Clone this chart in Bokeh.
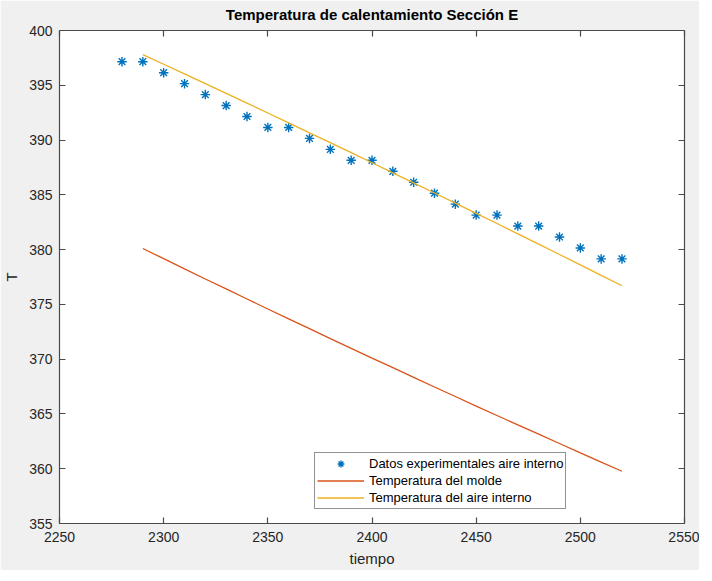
from bokeh.plotting import figure
from bokeh.models import (Range1d, LinearAxis, FixedTicker, Legend, LegendItem,
                          CustomLabelingPolicy)
from bokeh.embed import file_html
from bokeh.resources import INLINE

# ---- data ----
tiempo_exp = [2280, 2290, 2300, 2310, 2320, 2330, 2340, 2350, 2360, 2370,
              2380, 2390, 2400, 2410, 2420, 2430, 2440, 2450, 2460, 2470,
              2480, 2490, 2500, 2510, 2520]
T_exp = [397.15, 397.15, 396.15, 395.15, 394.15, 393.15, 392.15, 391.15, 391.15, 390.15,
         389.15, 388.15, 388.15, 387.15, 386.15, 385.15, 384.15, 383.15, 383.15, 382.15,
         382.15, 381.15, 380.15, 379.15, 379.15]

tiempo_sim = [2290, 2300, 2310, 2320, 2330, 2340, 2350, 2360, 2370, 2380,
              2390, 2400, 2410, 2420, 2430, 2440, 2450, 2460, 2470, 2480,
              2490, 2500, 2510, 2520]
T_molde = [380.10, 379.17, 378.24, 377.32, 376.41, 375.49, 374.58, 373.68, 372.78, 371.88,
           370.99, 370.10, 369.22, 368.34, 367.46, 366.59, 365.72, 364.86, 364.00, 363.15,
           362.30, 361.45, 360.61, 359.77]
T_aire = [397.80, 396.92, 396.04, 395.15, 394.26, 393.37, 392.47, 391.57, 390.66, 389.76,
          388.85, 387.93, 387.01, 386.09, 385.17, 384.24, 383.31, 382.38, 381.44, 380.50,
          379.55, 378.60, 377.65, 376.70]

x_ticks = [2250, 2300, 2350, 2400, 2450, 2500, 2550]
y_ticks = [355, 360, 365, 370, 375, 380, 385, 390, 395, 400]

title_text = "Temperatura de calentamiento Sección E"
x_label = "tiempo"
y_label = "T"
legend_labels = ["Datos experimentales aire interno",
                 "Temperatura del molde",
                 "Temperatura del aire interno"]

# ---- styles ----
FONT = "Liberation Sans"
AX = "#262626"
AXLINE = "#4a4a4a"
BLUE = "#0072BD"
ORANGE = "#D95319"
YELLOW = "#EDB120"

p = figure(frame_width=625, frame_height=493, output_backend="svg", toolbar_location=None,
           x_range=Range1d(x_ticks[0], x_ticks[-1]),
           y_range=Range1d(y_ticks[0], y_ticks[-1]),
           min_border_left=56, min_border_right=15,
           min_border_top=25, min_border_bottom=47,
           background_fill_color="white", border_fill_color="#f0f0f0",
           outline_line_color=None)
p.grid.visible = False

p.title.text = title_text
p.title.align = "center"
p.title.text_font = FONT
p.title.text_font_size = "15px"
p.title.text_font_style = "bold"
p.title.text_color = "#000000"
p.title.standoff = 7

def style_axis(ax, labels=True):
    ax.axis_line_color = AXLINE
    ax.axis_line_width = 1.2
    ax.major_tick_line_color = AXLINE
    ax.major_tick_line_width = 1.2
    ax.major_tick_in = 6
    ax.major_tick_out = 0
    ax.minor_tick_in = 0
    ax.minor_tick_out = 0
    ax.major_label_text_font = FONT
    ax.major_label_text_color = AX
    ax.axis_label_text_font = FONT
    ax.axis_label_text_font_style = "normal"
    ax.axis_label_text_color = AX
    ax.axis_label_text_font_size = "15px"
    if labels:
        ax.major_label_text_font_size = "14px"
    else:
        ax.major_label_text_font_size = "1px"
        ax.major_label_standoff = 0
        ax.axis_label_standoff = 0
        ax.major_label_policy = CustomLabelingPolicy(code="return new Set()")

p.xaxis.ticker = FixedTicker(ticks=x_ticks, minor_ticks=[])
p.yaxis.ticker = FixedTicker(ticks=y_ticks, minor_ticks=[])
p.xaxis.axis_label = x_label
p.yaxis.axis_label = y_label
style_axis(p.xaxis[0])
style_axis(p.yaxis[0])
p.xaxis.major_label_standoff = 8
p.yaxis.major_label_standoff = 7
p.xaxis.axis_label_standoff = 5
p.yaxis.axis_label_standoff = 6

top_ax = LinearAxis(ticker=FixedTicker(ticks=x_ticks, minor_ticks=[]))
right_ax = LinearAxis(ticker=FixedTicker(ticks=y_ticks, minor_ticks=[]))
style_axis(top_ax, labels=False)
style_axis(right_ax, labels=False)
p.add_layout(top_ax, "above")
p.add_layout(right_ax, "right")

r_exp = p.scatter(tiempo_exp, T_exp, marker="asterisk", size=9.5,
                  line_color=BLUE, line_width=1.4)
r_molde = p.line(tiempo_sim, T_molde, line_color=ORANGE, line_width=1.3)
r_aire = p.line(tiempo_sim, T_aire, line_color=YELLOW, line_width=1.3)

legend = Legend(items=[LegendItem(label=legend_labels[0], renderers=[r_exp]),
                       LegendItem(label=legend_labels[1], renderers=[r_molde]),
                       LegendItem(label=legend_labels[2], renderers=[r_aire])],
                location=(255, 14),
                label_text_font=FONT, label_text_font_size="13px",
                label_text_color="#000000",
                label_height=17, glyph_height=17, glyph_width=47,
                label_standoff=5, spacing=0, padding=2, margin=0,
                border_line_color=AX, border_line_width=1,
                background_fill_color="white", background_fill_alpha=1)
p.add_layout(legend)

open("out.html", "w").write(file_html(p, INLINE))
